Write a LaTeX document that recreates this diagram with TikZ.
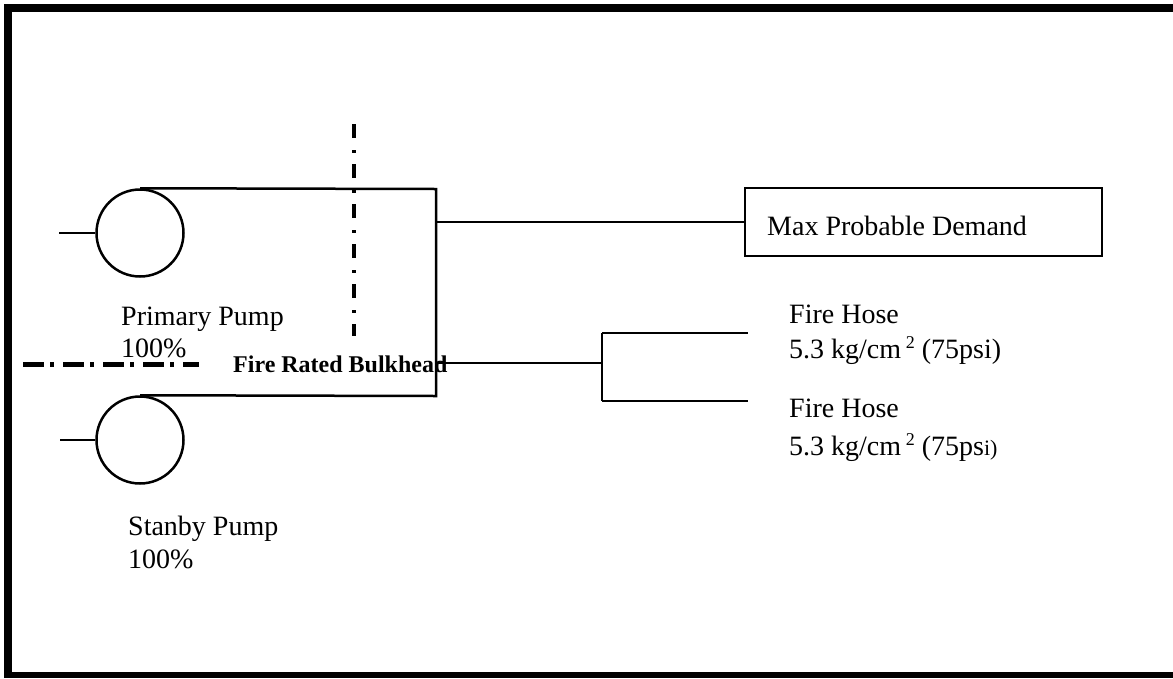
\documentclass[tikz,border=0pt]{standalone}
\usepackage{fontspec}
\setmainfont{Liberation Serif}
\begin{document}
\begin{tikzpicture}[x=1pt,y=-1pt,
  pipe/.style={line width=2.5pt},
  pump/.style={circle,draw,line width=2.5pt,minimum size=87pt,inner sep=0pt},
  lbl/.style={anchor=base west,inner sep=0pt,font=\fontsize{28}{32}\selectfont},
  blbl/.style={anchor=base west,inner sep=0pt,font=\fontsize{24}{26}\selectfont\bfseries},
  demand/.style={draw,line width=2.5pt,minimum width=357pt,minimum height=68pt,inner sep=0pt},
  framel/.style={line width=8pt},
  vbulk/.style={line width=4pt,dash pattern=on 14pt off 12pt on 3pt off 11pt},
  hbulk/.style={line width=5pt,dash pattern=on 21pt off 6pt on 4pt off 9pt}]
\useasboundingbox (0,0) rectangle (1173,678);
% frame
\draw[framel] (8,4) -- (8,678);
\draw[framel] (4,8) -- (1173,8);
\draw[line width=6pt] (4,675) -- (1173,675);
% pumps
\node[pump] (p1) at (140,233) {};
\node[pump] (p2) at (140,440) {};
\coordinate (in1) at (59,233);
\coordinate (in2) at (60,440);
\draw[pipe] (in1) -- (p1.west);
\draw[pipe] (in2) -- (p2.west);
% manifold
\coordinate (mt) at (436,189);
\coordinate (mb) at (436,396);
\draw[pipe] (p1.north) -- (mt) -- (mb) -- (p2.north);
% demand
\node[demand] (dem) at (923.5,222) {};
\node[lbl] (demt) at (767,235) {Max Probable Demand};
\coordinate (md) at (436,222);
\draw[pipe] (md) -- (dem.west);
% hoses
\coordinate (mh) at (436,363);
\coordinate (br) at (602,363);
\coordinate (bu) at (602,333);
\coordinate (bd) at (602,401);
\coordinate (hu) at (748,333);
\coordinate (hd) at (748,401);
\draw[pipe] (mh) -- (br);
\draw[pipe] (bu) -- (bd);
\draw[pipe] (bu) -- (hu);
\draw[pipe] (bd) -- (hd);
\node[lbl] (h1a) at (789,323) {Fire Hose};
\node[lbl] (h1b) at (789,358) {5.3 kg/cm\,\raisebox{10pt}{\fontsize{18}{18}\selectfont 2} (75psi)};
\node[lbl] (h2a) at (789,417) {Fire Hose};
\node[lbl] (h2b) at (789,455) {5.3 kg/cm\,\raisebox{10pt}{\fontsize{18}{18}\selectfont 2} (75ps{\fontsize{22}{22}\selectfont i)}};
% pump labels
\node[lbl] (pl1) at (121,325) {Primary Pump};
\node[lbl] (pl2) at (121,357) {100\%};
\node[lbl] (sl1) at (128,535) {Stanby Pump};
\node[lbl] (sl2) at (128,568) {100\%};
% bulkhead
\coordinate (vb1) at (354,124);
\coordinate (vb2) at (354,336);
\draw[vbulk] (vb1) -- (vb2);
\coordinate (hb1) at (23,364);
\coordinate (hb2) at (199,364);
\draw[hbulk] (hb1) -- (hb2);
\node[blbl] (bulk) at (233,372) {Fire Rated Bulkhead};
\end{tikzpicture}
\end{document}
